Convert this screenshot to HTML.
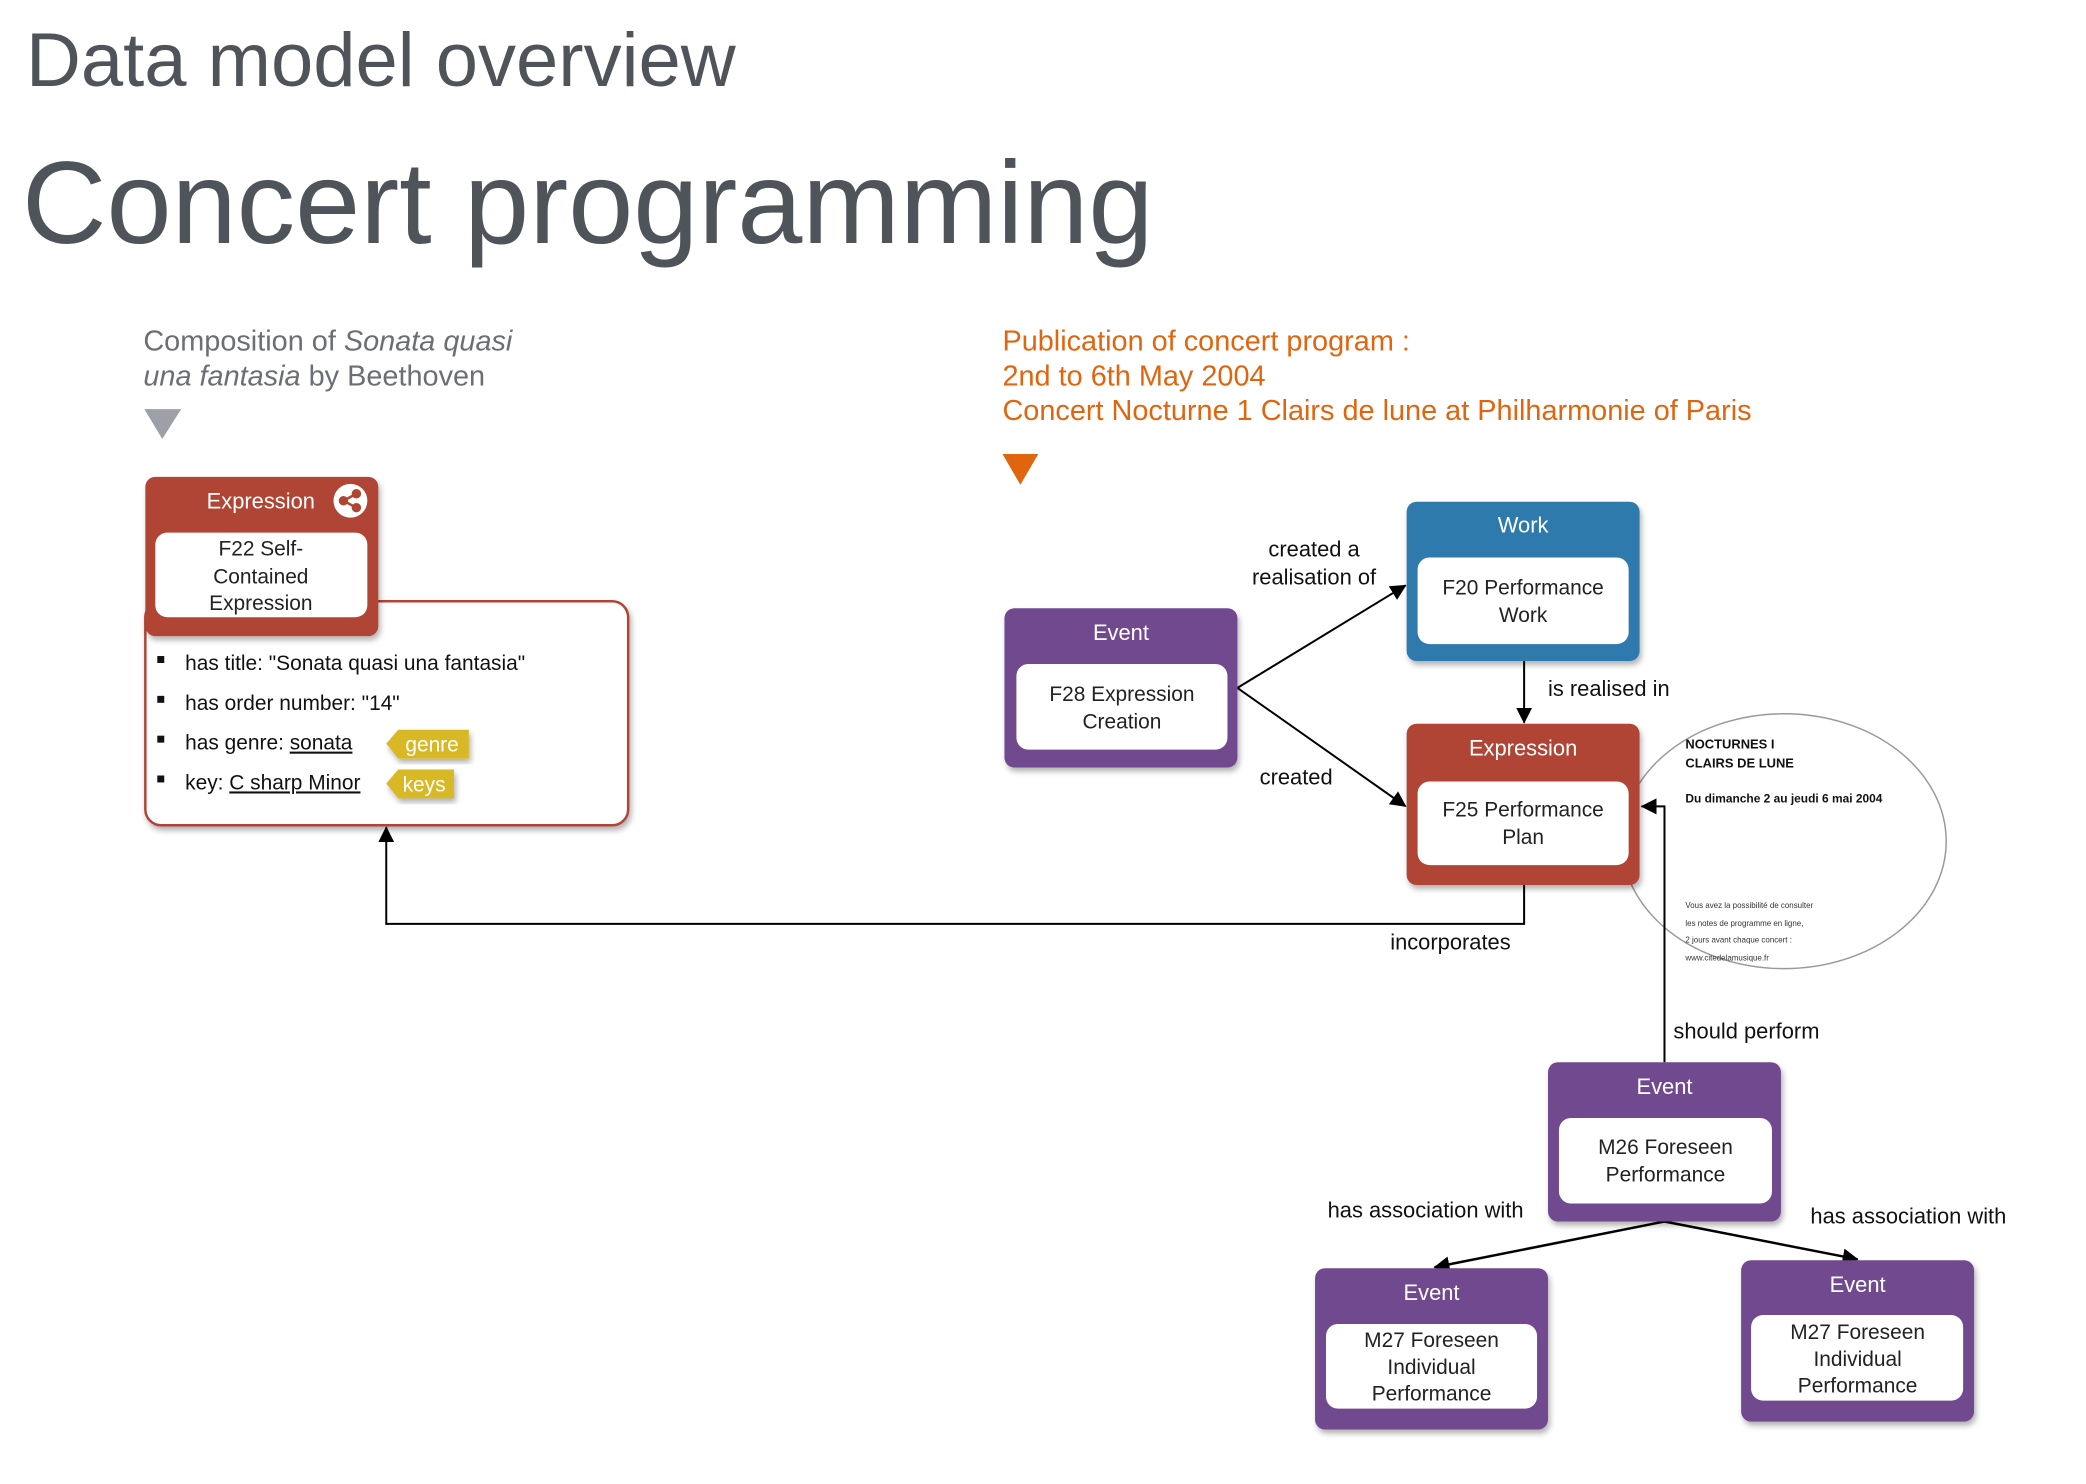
<!DOCTYPE html>
<html><head><meta charset="utf-8"><style>
html,body{margin:0;padding:0;background:#fff;}
svg{display:block;font-family:"Liberation Sans",Arial,sans-serif;}
</style></head><body>
<svg width="2086" height="1484" viewBox="0 0 2086 1484" xmlns="http://www.w3.org/2000/svg">
<defs>
<filter id="sh" x="-10%" y="-10%" width="130%" height="130%"><feDropShadow dx="2" dy="4" stdDeviation="3" flood-color="#000" flood-opacity="0.3"/></filter>
<marker id="ar2" markerWidth="16" markerHeight="16" refX="15" refY="8" orient="auto" markerUnits="userSpaceOnUse"><path d="M0,0 L16,8 L0,16 z" fill="#000"/></marker>
</defs>

<text x="26" y="86" font-size="76" fill="#4f545b">Data model overview</text>
<text x="22" y="243" font-size="117" fill="#4f545b">Concert programming</text>

<g transform="scale(0.9955)">
<text x="144" y="352" font-size="29" fill="#6b6e73">Composition of <tspan font-style="italic">Sonata quasi</tspan></text>
<text x="144" y="387" font-size="29" fill="#6b6e73"><tspan font-style="italic">una fantasia</tspan> by Beethoven</text>
<path d="M145,411 L182,411 L163,441 z" fill="#9da1a7"/>

<text x="1007" y="352" font-size="29" fill="#e0650f">Publication of concert program :</text>
<text x="1007" y="387" font-size="29" fill="#e0650f">2nd to 6th May 2004</text>
<text x="1007" y="422" font-size="29" fill="#e0650f">Concert Nocturne 1 Clairs de lune at Philharmonie of Paris</text>
<path d="M1007,456 L1043,456 L1025,487 z" fill="#e0650f"/>

<rect x="146" y="604" width="485" height="225" rx="16" fill="#fff" stroke="#b04534" stroke-width="2.5" filter="url(#sh)"/>
<rect x="146" y="479" width="234" height="160" rx="10" fill="#b04534" filter="url(#sh)"/>
<text x="262" y="511" font-size="22" fill="#fff" text-anchor="middle">Expression</text>
<circle cx="352" cy="503" r="17" fill="#fff"/>
<g stroke="#b04534" stroke-width="2.5" fill="#b04534"><line x1="345" y1="503" x2="358" y2="496"/><line x1="345" y1="503" x2="358" y2="510"/><circle cx="345" cy="503" r="3.5"/><circle cx="358" cy="496" r="3.5"/><circle cx="358" cy="510" r="3.5"/></g>
<rect x="156" y="535" width="213" height="85" rx="12" fill="#fff"/>
<text font-size="21" fill="#222" text-anchor="middle"><tspan x="262" y="558">F22 Self-</tspan><tspan x="262" y="586">Contained</tspan><tspan x="262" y="613">Expression</tspan></text>

<g font-size="21" fill="#111">
<rect x="158" y="659" width="7" height="7" fill="#111"/><text x="186" y="673">has title: "Sonata quasi una fantasia"</text>
<rect x="158" y="699" width="7" height="7" fill="#111"/><text x="186" y="713">has order number: "14"</text>
<rect x="158" y="739" width="7" height="7" fill="#111"/><text x="186" y="753">has genre: <tspan text-decoration="underline">sonata</tspan></text>
<rect x="158" y="779" width="7" height="7" fill="#111"/><text x="186" y="793">key: <tspan text-decoration="underline">C sharp Minor</tspan></text>
</g>
<path d="M400,733 L471,733 L471,762 L400,762 L388,747 z" fill="#d9b826" filter="url(#sh)"/>
<text x="434" y="755" font-size="21" fill="#fff" text-anchor="middle">genre</text>
<path d="M400,773 L456,773 L456,802 L400,802 L388,787 z" fill="#d9b826" filter="url(#sh)"/>
<text x="426" y="795" font-size="21" fill="#fff" text-anchor="middle">keys</text>

<polyline points="1531,889 1531,928 388,928 388,831" fill="none" stroke="#000" stroke-width="2" marker-end="url(#ar2)"/>
<text x="1457" y="954" font-size="22" fill="#111" text-anchor="middle">incorporates</text>
<line x1="1243" y1="691" x2="1412" y2="588" stroke="#000" stroke-width="2" marker-end="url(#ar2)"/>
<line x1="1243" y1="691" x2="1412" y2="810" stroke="#000" stroke-width="2" marker-end="url(#ar2)"/>
<text font-size="22" fill="#111" text-anchor="middle"><tspan x="1320" y="559">created a</tspan><tspan x="1320" y="587">realisation of</tspan></text>
<text x="1302" y="788" font-size="22" fill="#111" text-anchor="middle">created</text>
<line x1="1531" y1="664" x2="1531" y2="726" stroke="#000" stroke-width="2" marker-end="url(#ar2)"/>
<text x="1555" y="699" font-size="22" fill="#111">is realised in</text>

<ellipse cx="1792" cy="845" rx="163" ry="128" fill="#fff" stroke="#999" stroke-width="1.5"/>
<g fill="#111" font-weight="bold">
<text x="1693" y="752" font-size="13">NOCTURNES I</text>
<text x="1693" y="771" font-size="13">CLAIRS DE LUNE</text>
<text x="1693" y="806" font-size="12">Du dimanche 2 au jeudi 6 mai 2004</text>
</g>
<g fill="#333" font-size="8">
<text x="1693" y="912">Vous avez la possibilité de consulter</text>
<text x="1693" y="930">les notes de programme en ligne,</text>
<text x="1693" y="947">2 jours avant chaque concert :</text>
<text x="1693" y="965">www.citedelamusique.fr</text>
</g>

<polyline points="1672,1067 1672,810 1649,810" fill="none" stroke="#000" stroke-width="2" marker-end="url(#ar2)"/>
<text x="1681" y="1043" font-size="22" fill="#111">should perform</text>
<line x1="1672" y1="1227" x2="1441" y2="1273" stroke="#000" stroke-width="2.5" marker-end="url(#ar2)"/>
<line x1="1672" y1="1227" x2="1866" y2="1265" stroke="#000" stroke-width="2.5" marker-end="url(#ar2)"/>
<text x="1432" y="1223" font-size="22" fill="#111" text-anchor="middle">has association with</text>
<text x="1917" y="1229" font-size="22" fill="#111" text-anchor="middle">has association with</text>

<rect x="1009" y="611" width="234" height="160" rx="10" fill="#6f4a8e" filter="url(#sh)"/>
<text x="1126" y="643" font-size="22" fill="#fff" text-anchor="middle">Event</text>
<rect x="1021" y="667" width="212" height="86" rx="12" fill="#fff"/>
<text font-size="21" fill="#222" text-anchor="middle"><tspan x="1127" y="704">F28 Expression</tspan><tspan x="1127" y="732">Creation</tspan></text>

<rect x="1413" y="504" width="234" height="160" rx="10" fill="#2e7aad" filter="url(#sh)"/>
<text x="1530" y="535" font-size="22" fill="#fff" text-anchor="middle">Work</text>
<rect x="1424" y="560" width="212" height="87" rx="12" fill="#fff"/>
<text font-size="21" fill="#222" text-anchor="middle"><tspan x="1530" y="597">F20 Performance</tspan><tspan x="1530" y="625">Work</tspan></text>

<rect x="1413" y="727" width="234" height="162" rx="10" fill="#b04534" filter="url(#sh)"/>
<text x="1530" y="759" font-size="22" fill="#fff" text-anchor="middle">Expression</text>
<rect x="1424" y="785" width="212" height="84" rx="12" fill="#fff"/>
<text font-size="21" fill="#222" text-anchor="middle"><tspan x="1530" y="820">F25 Performance</tspan><tspan x="1530" y="848">Plan</tspan></text>

<rect x="1555" y="1067" width="234" height="160" rx="10" fill="#6f4a8e" filter="url(#sh)"/>
<text x="1672" y="1099" font-size="22" fill="#fff" text-anchor="middle">Event</text>
<rect x="1566" y="1123" width="214" height="86" rx="12" fill="#fff"/>
<text font-size="21" fill="#222" text-anchor="middle"><tspan x="1673" y="1159">M26 Foreseen</tspan><tspan x="1673" y="1187">Performance</tspan></text>

<rect x="1321" y="1274" width="234" height="162" rx="10" fill="#6f4a8e" filter="url(#sh)"/>
<text x="1438" y="1306" font-size="22" fill="#fff" text-anchor="middle">Event</text>
<rect x="1332" y="1330" width="212" height="85" rx="12" fill="#fff"/>
<text font-size="21" fill="#222" text-anchor="middle"><tspan x="1438" y="1353">M27 Foreseen</tspan><tspan x="1438" y="1380">Individual</tspan><tspan x="1438" y="1407">Performance</tspan></text>

<rect x="1749" y="1266" width="234" height="162" rx="10" fill="#6f4a8e" filter="url(#sh)"/>
<text x="1866" y="1298" font-size="22" fill="#fff" text-anchor="middle">Event</text>
<rect x="1759" y="1321" width="213" height="86" rx="12" fill="#fff"/>
<text font-size="21" fill="#222" text-anchor="middle"><tspan x="1866" y="1345">M27 Foreseen</tspan><tspan x="1866" y="1372">Individual</tspan><tspan x="1866" y="1399">Performance</tspan></text>
</g>
</svg>
</body></html>
